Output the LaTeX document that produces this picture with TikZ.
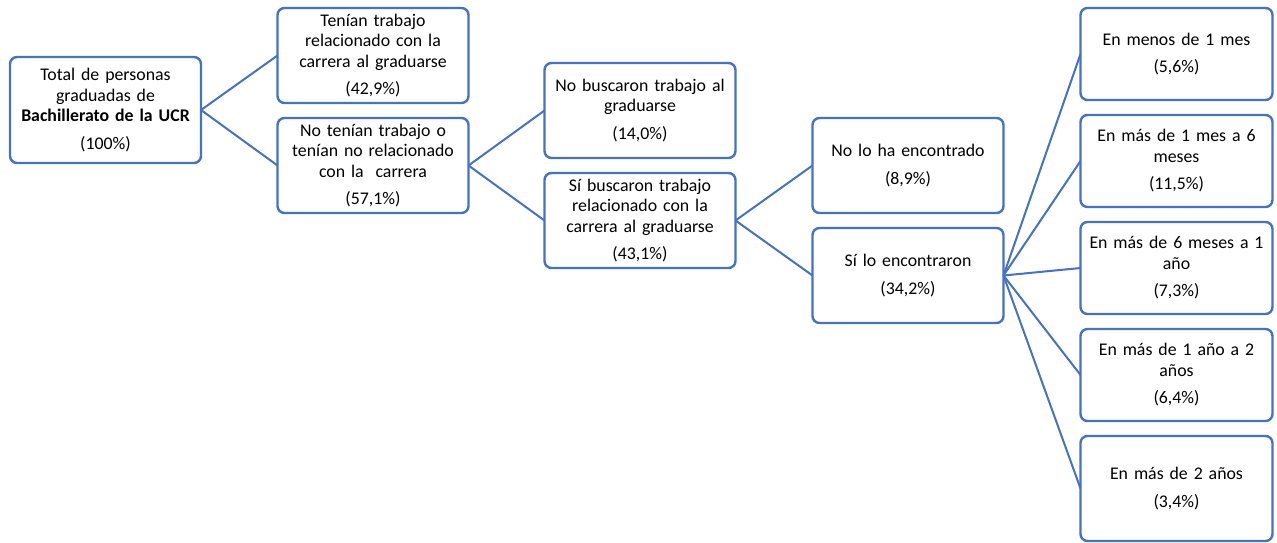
\documentclass[tikz,border=0pt]{standalone}
\usepackage{fontspec}
\setmainfont{Carlito}
\usetikzlibrary{positioning}

\definecolor{azulcaja}{RGB}{68,114,196}

\begin{document}
\begin{tikzpicture}[x=1pt, y=-1pt, node distance=15pt,
  caja/.style={draw=azulcaja, line width=2.4pt, rounded corners=7pt,
    minimum width=191pt, minimum height=95pt, text width=187pt, outer sep=0pt,
    align=center, inner sep=1pt, font=\fontsize{17.8}{20.5}\selectfont},
  rama/.style={draw=azulcaja, line width=2pt}]
\useasboundingbox (0,0) rectangle (1277,542);

\node[caja, minimum height=106pt] (total) at (105.5,110) {Total de personas\\graduadas de\\\textbf{Bachillerato de la UCR}\\[7pt](100\%)};

\node[caja] (tenian) at (373,55.5) {Tenían trabajo\\relacionado con la\\carrera al graduarse\\[7pt](42,9\%)};
\node[caja] (notenian) [below=of tenian] {No tenían trabajo o\\tenían no relacionado\\con la\ \ carrera\\[7pt](57,1\%)};

\node[caja] (nobusc) at (640,110.5) {No buscaron trabajo al\\graduarse\\[7pt](14,0\%)};
\node[caja] (sibusc) [below=of nobusc] {Sí buscaron trabajo\\relacionado con la\\carrera al graduarse\\[7pt](43,1\%)};

\node[caja] (noenc) at (908,165.5) {No lo ha encontrado\\[7pt](8,9\%)};
\node[caja] (sienc) [below=of noenc] {Sí lo encontraron\\[7pt](34,2\%)};

\node[caja, minimum width=192pt, minimum height=92pt] (menos1) at (1176.5,54) {En menos de 1 mes\\[7pt](5,6\%)};
\node[caja, minimum width=192pt, minimum height=92pt] (mes6) [below=of menos1] {En más de 1 mes a 6\\meses\\[7pt](11,5\%)};
\node[caja, minimum width=192pt, minimum height=92pt] (mes12) [below=of mes6] {En más de 6 meses a 1\\año\\[7pt](7,3\%)};
\node[caja, minimum width=192pt, minimum height=92pt] (anio2) [below=of mes12] {En más de 1 año a 2\\años\\[7pt](6,4\%)};
\node[caja, minimum width=192pt, minimum height=105pt] (mas2) [below=of anio2] {En más de 2 años\\[7pt](3,4\%)};

\draw[rama] (total.east) -- (tenian.west);
\draw[rama] (total.east) -- (notenian.west);
\draw[rama] (notenian.east) -- (nobusc.west);
\draw[rama] (notenian.east) -- (sibusc.west);
\draw[rama] (sibusc.east) -- (noenc.west);
\draw[rama] (sibusc.east) -- (sienc.west);
\foreach \hoja in {menos1,mes6,mes12,anio2,mas2}
  \draw[rama] (sienc.east) -- (\hoja.west);
\end{tikzpicture}
\end{document}
